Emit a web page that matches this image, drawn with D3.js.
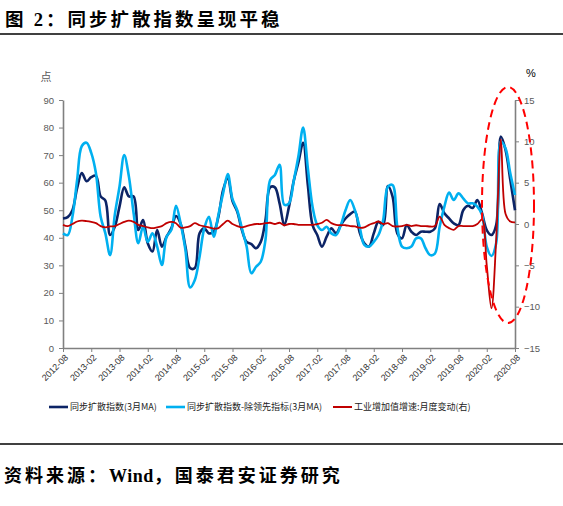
<!DOCTYPE html>
<html><head><meta charset="utf-8">
<script src="https://cdn.jsdelivr.net/npm/d3@7"></script>
<style>body{margin:0;background:#fff}svg{display:block}</style>
</head><body><svg id="c" width="563" height="506"></svg>
<script>
// ---- data ----
const startMonth = new Date(2012, 7, 1), endMonth = new Date(2020, 7, 1);
const months = d3.timeMonth.range(startMonth, d3.timeMonth.offset(endMonth, 1)).map(d3.timeFormat("%Y-%m"));
const tickLabels = ["2012-08","2013-02","2013-08","2014-02","2014-08","2015-02","2015-08","2016-02","2016-08","2017-02","2017-08","2018-02","2018-08","2019-02","2019-08","2020-02","2020-08"];
const leftTicks = [0,10,20,30,40,50,60,70,80,90];
const rightTicks = [-15,-10,-5,0,5,10,15];
const seriesNames = ["同步扩散指数(3月MA)","同步扩散指数-除领先指标(3月MA)","工业增加值增速:月度变动(右)"];
const diffusion = [47,47.5,50,58,63.5,60.5,62,62.5,55,53.5,41,44,51.3,58.3,55,55,42.8,46.4,38,35,42.8,36.8,40.4,43.4,47.9,45,36.8,29,29,41.6,43.4,41.6,42.2,47.6,57.3,61.6,53.3,49.5,42.8,38.5,37.7,36.2,38.5,46.4,58.3,58.3,52.5,44.6,51.3,60.6,67.3,74.5,59.1,44.6,41,36.8,40.4,43.4,41.6,44.6,47,48.6,49.5,42,38,36.8,41.6,45.8,44.6,58.8,54.9,41.6,39.8,44.6,42.2,41,42.2,42.2,42.2,43.4,52.2,48.9,47,45.2,44.6,50,51.6,50.8,53.7,48.9,42.8,41,44.6,76.7,71.8,61,50];
const diffusionExLead = [41.6,41,47.6,61,73.3,74.5,70.8,63.4,47.6,41.6,33.7,48.3,58.5,70,62.2,48.9,38,44,38.5,41.6,36.8,30.1,40.4,42.8,51.6,45,35.6,22,24.7,33.1,43.4,47.6,40.4,48.3,56.1,63.1,54,50,43.4,36.8,27.1,29.5,31.3,39.2,61,62.8,66.5,52,52.5,60.6,69.6,80,65.3,51.3,44.6,42.8,44,41.6,41,44.6,50,53.7,50,44,37.4,36.8,38.5,41,46.4,58.5,59.1,44,36.8,36.2,36.8,39.8,39.8,36.2,33.7,34.3,44,51.3,56.4,53.7,56.1,54.3,52.5,52.5,51.3,48.3,36.8,33.4,38,74.9,72.4,63.4,55.5];
const ipChange = [-0.1,-0.25,0,0.3,0.4,0.35,0.25,0.1,-0.25,-0.4,-0.3,-0.25,0,0.25,0.4,0.25,-0.1,-0.25,-0.4,-0.5,-0.4,-0.25,0.1,0.25,0.1,-0.45,-0.4,-0.25,0.1,-0.15,-0.3,-0.4,-0.55,-0.5,0,0.4,0,-0.25,-0.4,-0.25,-0.1,0,0,0.1,0.15,0,0.15,-0.15,0,0,-0.1,-0.1,-0.1,-0.1,0,0.15,0.5,0.1,-0.1,-0.15,-0.15,-0.25,-0.3,-0.45,-0.4,-0.1,0.1,0.3,0,0.1,-0.25,-0.3,-0.25,-0.1,-0.25,-0.15,-0.25,-0.25,-0.3,-0.25,0.9,-0.1,-0.5,-0.7,-0.25,-0.25,-0.25,-0.25,0,0.55,-5,-10.2,-2,10.2,1.2,0.3,0.2];

// ---- chart ----
const svg = d3.select("#c");
const L = 63, R = 515, T = 100, B = 348;
const x = d3.scalePoint().domain(months).range([L, R]);
const yL = d3.scaleLinear().domain([0, 90]).range([B, T]);
const yR = d3.scaleLinear().domain([-15, 15]).range([B, T]);
const cjk = "'Noto Sans CJK SC','Noto Sans',sans-serif";
const axisColor = "#808080", labColor = "#595959";

// title & rules
svg.append("text").attr("x", 5).attr("y", 26).attr("font-family", cjk).attr("font-weight", "bold")
  .attr("font-size", 18.5).attr("letter-spacing", 3).attr("fill", "#000")
  .call(t => { t.append("tspan").text("图 "); t.append("tspan").attr("font-family","'Liberation Serif',serif").text("2"); t.append("tspan").text("：同步扩散指数呈现平稳"); });
svg.append("line").attr("x1", 0).attr("x2", 563).attr("y1", 34).attr("y2", 34).attr("stroke", "#000").attr("stroke-width", 1.3);
svg.append("line").attr("x1", 0).attr("x2", 563).attr("y1", 444).attr("y2", 444).attr("stroke", "#000").attr("stroke-width", 1.3);
svg.append("text").attr("x", 4).attr("y", 482).attr("font-family", cjk).attr("font-weight", "bold")
  .attr("font-size", 18).attr("letter-spacing", 3).attr("fill", "#000")
  .call(t => { t.append("tspan").text("资料来源："); t.append("tspan").attr("font-family","'Liberation Serif',serif").attr("letter-spacing",0.5).text("Wind"); t.append("tspan").text("，国泰君安证券研究"); });

// axes
function styleAxis(g) {
  g.select(".domain").attr("stroke", axisColor).attr("stroke-width", 1.6);
  g.selectAll(".tick line").attr("stroke", axisColor).attr("stroke-width", 1);
  g.selectAll(".tick text").attr("fill", labColor).attr("font-family", "'Liberation Sans',Arial,sans-serif").attr("font-size", 9.5);
}
svg.append("g").attr("transform", `translate(${L},0)`)
  .call(d3.axisLeft(yL).tickValues(leftTicks).tickSize(4).tickSizeOuter(0).tickPadding(5)).call(styleAxis);
svg.append("g").attr("transform", `translate(${R},0)`)
  .call(d3.axisRight(yR).tickValues(rightTicks).tickSize(4).tickSizeOuter(0).tickPadding(5)).call(styleAxis);
const xg = svg.append("g").attr("transform", `translate(0,${B})`)
  .call(d3.axisBottom(x).tickValues(tickLabels).tickSize(4).tickSizeOuter(0)).call(styleAxis);
xg.selectAll(".tick text").attr("fill", "#333").attr("font-size", 9).attr("text-anchor", "end")
  .attr("x", 0).attr("y", 0).attr("dy", "0.35em").attr("transform", "translate(3,8) rotate(-45)");

svg.append("text").attr("x", 46).attr("y", 81).attr("text-anchor", "middle").attr("font-family", cjk)
  .attr("font-size", 11).attr("fill", labColor).text("点");
svg.append("text").attr("x", 531).attr("y", 77).attr("text-anchor", "middle").attr("font-family", "'Liberation Sans',Arial,sans-serif")
  .attr("font-size", 11).attr("fill", "#000").text("%");

// lines
const curve = d3.curveCatmullRom.alpha(0.5);
const lineL = d3.line().x((d, i) => x(months[i])).y(d => yL(d)).curve(curve);
const lineR = d3.line().x((d, i) => x(months[i])).y(d => yR(d)).curve(curve);
const colors = ["#0C2466", "#00B0F0", "#C00000"];
svg.append("path").attr("d", lineL(diffusion)).attr("fill", "none").attr("stroke", colors[0]).attr("stroke-width", 2.6);
svg.append("path").attr("d", lineL(diffusionExLead)).attr("fill", "none").attr("stroke", colors[1]).attr("stroke-width", 2.6);
svg.append("path").attr("d", lineR(ipChange)).attr("fill", "none").attr("stroke", colors[2]).attr("stroke-width", 1.8);

// highlight ellipse
svg.append("ellipse").attr("cx", 508).attr("cy", 205).attr("rx", 26).attr("ry", 118)
  .attr("fill", "none").attr("stroke", "#FF0000").attr("stroke-width", 2).attr("stroke-dasharray", "8,5");

// legend
const legX = [49, 166, 333];
const lg = svg.append("g").attr("transform", "translate(0,407)");
seriesNames.forEach((n, i) => {
  lg.append("line").attr("x1", legX[i]).attr("x2", legX[i] + 19).attr("y1", 0).attr("y2", 0)
    .attr("stroke", colors[i]).attr("stroke-width", i < 2 ? 2.6 : 2);
  lg.append("text").attr("x", legX[i] + 21).attr("y", 0).attr("dy", "0.35em").attr("font-family", cjk)
    .attr("font-size", 9).attr("fill", "#222").text(n);
});
</script></body></html>
